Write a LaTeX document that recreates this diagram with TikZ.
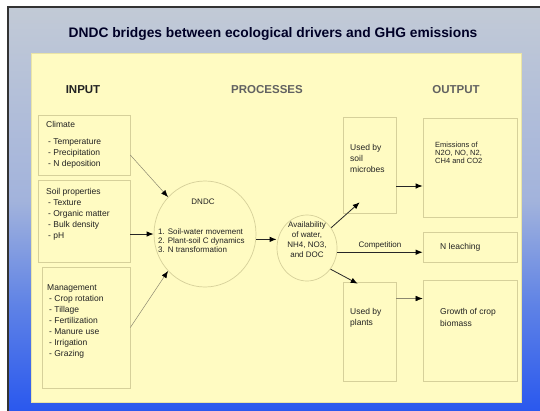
\documentclass[tikz,border=0pt]{standalone}
\usepackage{fontspec}
\setmainfont{Liberation Sans}
\usetikzlibrary{shapes.geometric,arrows.meta,calc}
\definecolor{bgtop}{HTML}{C2CAD6}
\definecolor{bgmidA}{HTML}{A2B3DC}
\definecolor{bgmidB}{HTML}{5E82E6}
\definecolor{bgbot}{HTML}{2A58EE}
\definecolor{panel}{HTML}{FFFBC2}
\definecolor{panelline}{HTML}{EAE4A6}
\definecolor{boxc}{HTML}{D6D09A}
\definecolor{txtc}{HTML}{222222}
\definecolor{thinline}{HTML}{8C8870}
\pgfdeclareverticalshading{bgshade}{100bp}{color(0bp)=(bgbot); color(25bp)=(bgbot); color(38bp)=(bgmidB); color(51bp)=(bgmidA); color(75bp)=(bgtop); color(100bp)=(bgtop)}
\begin{document}
\begin{tikzpicture}[x=1pt,y=-1pt,
  boxn/.style={draw=boxc, line width=0.6pt, inner sep=0pt},
  ovaln/.style={ellipse, draw=boxc, line width=0.7pt, inner sep=0pt},
  txt/.style={text=txtc, font=\fontsize{8.5}{11}\selectfont, align=left, inner sep=0pt},
  hdr/.style={text=txtc, font=\bfseries\fontsize{11.5}{14}\selectfont},
  arr/.style={draw=black!85, line width=1pt, -{Latex[length=7pt,width=5.5pt,color=black]}},
  thinarr/.style={draw=thinline, line width=0.5pt, -{Latex[length=7pt,width=5.5pt,color=black]}}]
\useasboundingbox (0,0) rectangle (540,410);
% background
\fill[white] (0,0) rectangle (540,410);
\shade[shading=bgshade] (8,7) rectangle (541,411);
\draw[line width=1.3pt, black!80] (8,411) -- (8,7) -- (541,7);
\fill[panel, draw=panelline, line width=0.8pt] (31,53) rectangle (521,402);
% title
\node[text=black!85!blue, font=\bfseries\fontsize{13.8}{16}\selectfont] (title) at (273,34) {DNDC bridges between ecological drivers and GHG emissions};
% headers
\node[hdr] (hin) at (83,90) {INPUT};
\node[hdr, text=black!62] (hproc) at (267,90) {PROCESSES};
\node[hdr, text=black!62] (hout) at (456,90) {OUTPUT};
% input boxes
\node[boxn, minimum width=92pt, minimum height=60pt] (climate) at (84,145) {};
\node[boxn, minimum width=92pt, minimum height=82pt] (soil) at (84,221) {};
\node[boxn, minimum width=88pt, minimum height=121pt] (mgmt) at (86,327.5) {};
\node[txt, anchor=north west] (climatetxt) at (46,121) {Climate\\[6pt]\hspace*{2pt}- Temperature\\\hspace*{2pt}- Precipitation\\\hspace*{2pt}- N deposition};
\node[txt, anchor=north west] (soiltxt) at (46,188) {Soil properties\\\hspace*{2pt}- Texture\\\hspace*{2pt}- Organic matter\\\hspace*{2pt}- Bulk density\\\hspace*{2pt}- pH};
\node[txt, anchor=north west] (mgmttxt) at (47,284) {Management\\\hspace*{2pt}- Crop rotation\\\hspace*{2pt}- Tillage\\\hspace*{2pt}- Fertilization\\\hspace*{2pt}- Manure use\\\hspace*{2pt}- Irrigation\\\hspace*{2pt}- Grazing};
% DNDC ellipse
\node[ovaln, minimum width=102pt, minimum height=106pt] (dndc) at (205,234) {};
\node[txt, font=\fontsize{8}{9}\selectfont] (dndchead) at (203,202) {DNDC};
\node[txt, font=\fontsize{8}{9}\selectfont, anchor=north west] (dndctxt) at (158,228) {1. Soil-water movement\\2. Plant-soil C dynamics\\3. N transformation};
% availability
\node[ovaln, minimum width=60pt, minimum height=66pt] (avail) at (307,248) {};
\node[txt, font=\fontsize{8}{10}\selectfont, align=center] (availtxt) at (307,240) {Availability\\of water,\\NH4, NO3,\\and DOC};
% use boxes
\node[boxn, minimum width=53pt, minimum height=96pt] (microbes) at (369.5,165) {};
\node[boxn, minimum width=53pt, minimum height=99pt] (plants) at (369.5,331.5) {};
\node[txt, anchor=north west] (microbestxt) at (350,144) {Used by\\soil\\microbes};
\node[txt, anchor=north west] (plantstxt) at (350,308) {Used by\\plants};
% output boxes
\node[boxn, minimum width=94pt, minimum height=99pt] (emis) at (470,167.5) {};
\node[boxn, minimum width=94pt, minimum height=30pt] (leach) at (470,247) {};
\node[boxn, minimum width=94pt, minimum height=101pt] (growth) at (470,330.5) {};
\node[txt, font=\fontsize{7.5}{8}\selectfont, anchor=north west] (emistxt) at (435,142) {Emissions of\\N2O, NO, N2,\\CH4 and CO2};
\node[txt, anchor=west] (leachtxt) at (440,247) {N leaching};
\node[txt, anchor=north west, font=\fontsize{8.5}{12.5}\selectfont] (growthtxt) at (440,308) {Growth of crop\\biomass};
% connectors
\draw[thinarr] ([yshift=-10pt]climate.east) -- (dndc.135);
\draw[arr] (soil.east |- dndc.west) -- (dndc.west);
\draw[thinarr] (mgmt.east) -- (dndc.225);
\draw[arr] (dndc.-6) -- (avail.west |- dndc.-6);
\draw[arr, line width=0.8pt] (avail.40) -- ([xshift=17pt,yshift=11pt]microbes.south west);
\draw[arr, line width=0.8pt] (avail.-42) -- ([xshift=15pt,yshift=-2pt]plants.north west);
\draw[arr] (avail.-8) -- node[txt, font=\fontsize{8}{9}\selectfont, above=3pt] (comp) {Competition} (leach.west |- avail.-8);
\draw[arr] ([yshift=-21pt]microbes.east) -- ([yshift=-21pt]microbes.east -| emis.west);
\draw[thinarr] ([yshift=33pt]plants.east) -- ([yshift=33pt]plants.east -| growth.west);
\end{tikzpicture}
\end{document}
